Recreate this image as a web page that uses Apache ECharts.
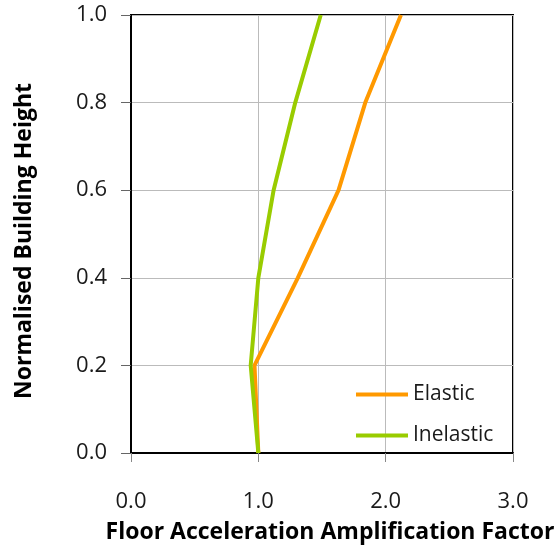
<!DOCTYPE html>
<html>
<head>
<meta charset="utf-8">
<script src="https://cdn.jsdelivr.net/npm/echarts@6/dist/echarts.min.js"></script>
<style>
  html, body { margin: 0; padding: 0; background: #fff; }
  #chart { width: 555px; height: 548px; }
</style>
</head>
<body>
<div id="chart"></div>
<script>
// normalised building height (y) against amplification factor (x)
const heights = [0.0, 0.2, 0.4, 0.6, 0.8, 1.0];
const elastic = [1.0, 0.97, 1.31, 1.63, 1.84, 2.12];
const inelastic = [1.0, 0.94, 1.0, 1.12, 1.29, 1.49];

const font = '"Open Sans", Lato, sans-serif';

const chart = echarts.init(document.getElementById('chart'));
const pairs = (xs) => xs.map((x, i) => [x, heights[i]]);

chart.setOption({
  animation: false,
  textStyle: { fontFamily: font },
  grid: {
    left: 131, top: 15, right: 42, bottom: 95,
    outerBoundsMode: 'none',
    show: true, borderColor: '#000', borderWidth: 2
  },
  legend: {
    orient: 'vertical',
    left: 351, top: 379,
    icon: 'rect',
    itemWidth: 52, itemHeight: 4,
    itemGap: 20,
    textStyle: { fontSize: 21, color: '#1a1a1a', fontFamily: font },
    data: ['Elastic', 'Inelastic']
  },
  xAxis: {
    type: 'value',
    min: 0, max: 3, interval: 1,
    name: 'Floor Acceleration Amplification Factor',
    nameLocation: 'middle',
    nameGap: 68,
    nameTextStyle: { fontSize: 23, fontWeight: 'bold', color: '#000', fontFamily: font, padding: [0, 0, 0, 16] },
    axisLine: { lineStyle: { color: '#000', width: 2 } },
    axisTick: { show: true, length: 9, lineStyle: { color: '#888' } },
    axisLabel: { margin: 38, fontSize: 22, color: '#1a1a1a', formatter: v => v.toFixed(1) },
    splitLine: { lineStyle: { color: '#bbb', width: 1 } }
  },
  yAxis: {
    type: 'value',
    min: 0, max: 1, interval: 0.2,
    name: 'Normalised Building Height',
    nameLocation: 'middle',
    nameGap: 95,
    nameTextStyle: { fontSize: 23, fontWeight: 'bold', color: '#000', fontFamily: font, padding: [0, 14, 0, 0] },
    axisLine: { show: true, lineStyle: { color: '#000', width: 2 } },
    axisTick: { show: true, length: 10, lineStyle: { color: '#666' } },
    axisLabel: { margin: 24, fontSize: 22, color: '#1a1a1a', formatter: v => v.toFixed(1) },
    splitLine: { lineStyle: { color: '#bbb', width: 1 } }
  },
  series: [
    {
      name: 'Elastic', type: 'line', data: pairs(elastic),
      symbol: 'none', color: '#ff9900',
      lineStyle: { width: 4, color: '#ff9900' }
    },
    {
      name: 'Inelastic', type: 'line', data: pairs(inelastic),
      symbol: 'none', color: '#99cc00',
      lineStyle: { width: 4, color: '#99cc00' }
    }
  ]
});

window.addEventListener('resize', () => chart.resize());
</script>
</body>
</html>
